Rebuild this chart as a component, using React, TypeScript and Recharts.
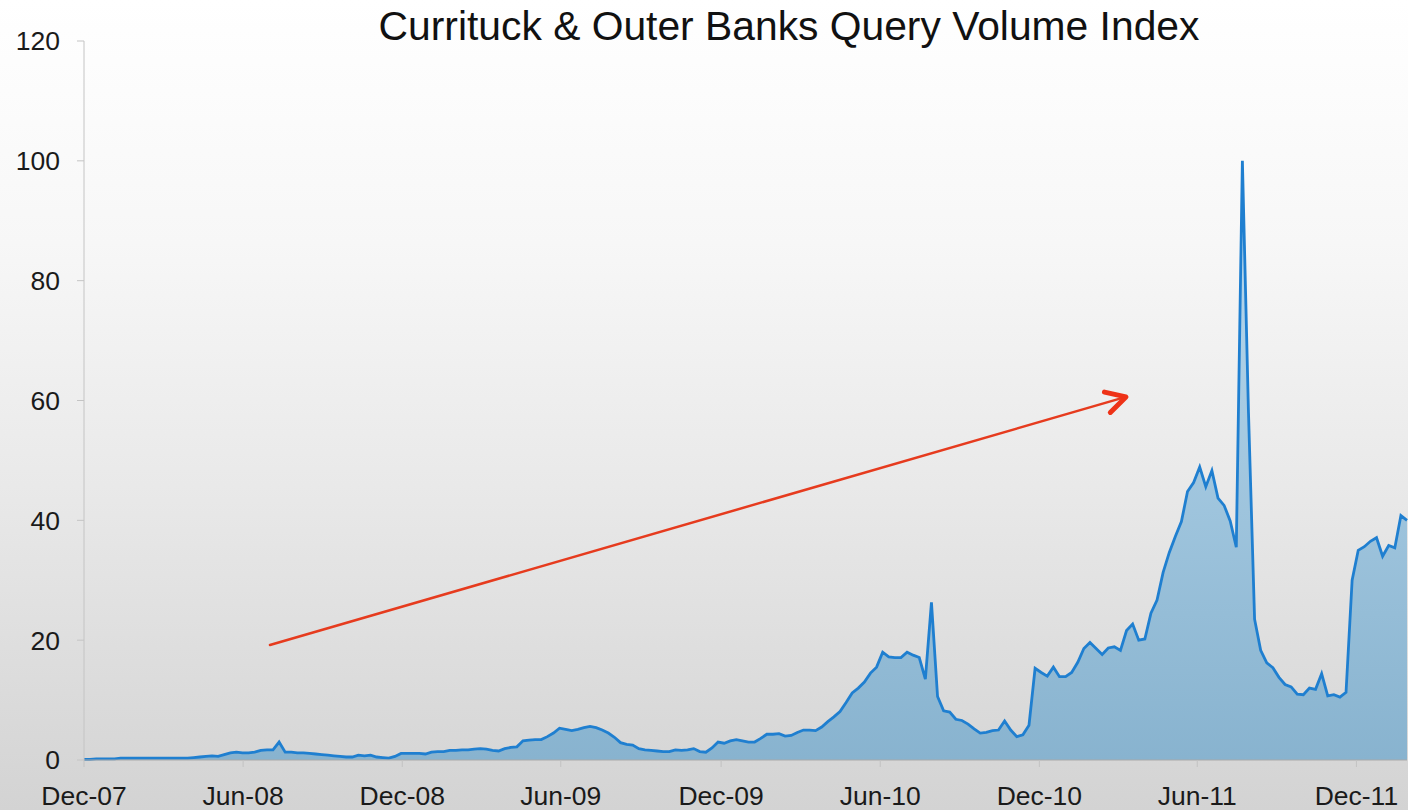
import { AreaChart, Area, XAxis, YAxis, ReferenceLine } from 'recharts'

// weekly query volume index, Dec-07 .. Feb-12
const weeklyIndex = [
  0.1, 0.1, 0.2, 0.2, 0.2, 0.2, 0.3, 0.3, 0.3, 0.3,
  0.3, 0.3, 0.3, 0.3, 0.3, 0.3, 0.3, 0.3, 0.4, 0.5,
  0.6, 0.7, 0.6, 0.9, 1.2, 1.3, 1.2, 1.2, 1.3, 1.6,
  1.7, 1.7, 3.0, 1.3, 1.3, 1.2, 1.2, 1.1, 1.0, 0.9,
  0.8, 0.7, 0.6, 0.5, 0.5, 0.8, 0.7, 0.8, 0.5, 0.4,
  0.3, 0.6, 1.1, 1.1, 1.1, 1.1, 1.0, 1.3, 1.4, 1.4,
  1.6, 1.6, 1.7, 1.7, 1.8, 1.9, 1.8, 1.6, 1.5, 1.9,
  2.1, 2.2, 3.2, 3.3, 3.4, 3.4, 3.9, 4.5, 5.3, 5.1,
  4.9, 5.1, 5.4, 5.6, 5.4, 5.0, 4.5, 3.8, 2.9, 2.6,
  2.5, 1.9, 1.7, 1.6, 1.5, 1.4, 1.4, 1.7, 1.6, 1.7,
  1.9, 1.4, 1.3, 2.0, 3.0, 2.8, 3.2, 3.4, 3.2, 3.0,
  3.0, 3.6, 4.3, 4.3, 4.4, 4.0, 4.1, 4.6, 5.0, 5.0,
  4.9, 5.5, 6.4, 7.2, 8.1, 9.6, 11.2, 12.0, 13.0, 14.5,
  15.5, 18.0, 17.2, 17.1, 17.1, 18.0, 17.5, 17.1, 13.5, 26.3,
  10.6, 8.2, 8.0, 6.8, 6.6, 6.0, 5.2, 4.5, 4.6, 4.9,
  5.0, 6.5, 5.0, 3.9, 4.2, 5.8, 15.3, 14.6, 14.0, 15.5,
  13.9, 13.9, 14.6, 16.3, 18.6, 19.6, 18.6, 17.6, 18.7, 18.9,
  18.3, 21.6, 22.7, 20.0, 20.2, 24.5, 26.7, 31.3, 34.6, 37.3,
  39.8, 44.8, 46.3, 48.9, 45.6, 48.3, 43.7, 42.5, 39.9, 35.5,
  100, 58, 23.5, 18.3, 16.2, 15.4, 13.8, 12.6, 12.2, 11.0,
  10.9, 12.0, 11.8, 14.4, 10.7, 10.9, 10.5, 11.3, 30.0, 35.0,
  35.6, 36.5, 37.1, 34.0, 35.8, 35.4, 40.8, 40.0,
]

const xTickWeeks = [0, 26.1, 52.2, 78.2, 104.5, 130.6, 156.7, 182.6, 208.7]
const xTickLabels = ['Dec-07', 'Jun-08', 'Dec-08', 'Jun-09', 'Dec-09', 'Jun-10', 'Dec-10', 'Jun-11', 'Dec-11']
const yTicks = [0, 20, 40, 60, 80, 100, 120]

// trend arrow, in chart units (week, index)
const arrowFrom = { week: 30.5, value: 19.2 }
const arrowTo = { week: 170.9, value: 60.6 }

const data = weeklyIndex.map((value, week) => ({ week, value }))

const font = '"Liberation Sans", Arial, Helvetica, sans-serif'

function TrendArrow(props: any) {
  const { x1, y1, x2, y2 } = props
  const ang = Math.atan2(y2 - y1, x2 - x1)
  const len = 22
  const spread = 0.5
  const ax = x2 - len * Math.cos(ang - spread)
  const ay = y2 - len * Math.sin(ang - spread)
  const bx = x2 - len * Math.cos(ang + spread)
  const by = y2 - len * Math.sin(ang + spread)
  return (
    <g>
      <line x1={x1} y1={y1} x2={x2} y2={y2} stroke="#e63b1e" strokeWidth={2.5} strokeLinecap="round" />
      <polyline
        points={`${ax},${ay} ${x2},${y2} ${bx},${by}`}
        fill="none"
        stroke="#ee3217"
        strokeWidth={5}
        strokeLinecap="round"
        strokeLinejoin="round"
      />
    </g>
  )
}

export default function App() {
  return (
    <div
      style={{
        position: 'absolute', left: 0, top: 0, width: 1408, height: 810, overflow: 'hidden',
        background: 'linear-gradient(to bottom, #ffffff 0%, #f7f7f7 30%, #e9e9e9 60%, #d3d3d3 100%)',
        fontFamily: font,
      }}
    >
      <div
        style={{
          position: 'absolute', top: 6, left: 789, transform: 'translateX(-50%)',
          whiteSpace: 'nowrap', fontSize: 40.8, lineHeight: '40px', color: '#111',
        }}
      >
        Currituck &amp; Outer Banks Query Volume Index
      </div>
      <AreaChart width={1408} height={810} data={data} margin={{ top: 41, right: 1, bottom: 0, left: 0 }}>
        <defs>
          <linearGradient id="areaFill" x1="0" y1="0" x2="0" y2="1">
            <stop offset="0%" stopColor="#bddcf0" />
            <stop offset="100%" stopColor="#88b3cf" />
          </linearGradient>
        </defs>
        <XAxis
          dataKey="week"
          type="number"
          domain={[0, weeklyIndex.length - 1]}
          ticks={xTickWeeks}
          tickFormatter={(v: number) => xTickLabels[xTickWeeks.indexOf(v)]}
          height={50}
          interval={0}
          tick={{ fill: '#1a1a1a', fontSize: 26.5, fontFamily: font }}
          stroke="#a9a9a9"
          tickLine={{ stroke: '#c2c2c2' }}
          tickSize={7}
          tickMargin={19}
        />
        <YAxis
          domain={[0, 120]}
          ticks={yTicks}
          width={84}
          interval={0}
          tick={{ fill: '#1a1a1a', fontSize: 26.5, fontFamily: font }}
          axisLine={{ stroke: '#c4c4c4' }}
          tickLine={{ stroke: '#c4c4c4' }}
          tickSize={7}
          tickMargin={17}
        />
        <Area
          type="linear"
          dataKey="value"
          stroke="#1f7fd0"
          strokeWidth={2.8}
          fill="url(#areaFill)"
          fillOpacity={1}
          isAnimationActive={false}
          dot={false}
          activeDot={false}
        />
        <ReferenceLine
          segment={[{ x: arrowFrom.week, y: arrowFrom.value }, { x: arrowTo.week, y: arrowTo.value }]}
          ifOverflow="visible"
          shape={TrendArrow}
        />
      </AreaChart>
    </div>
  )
}
